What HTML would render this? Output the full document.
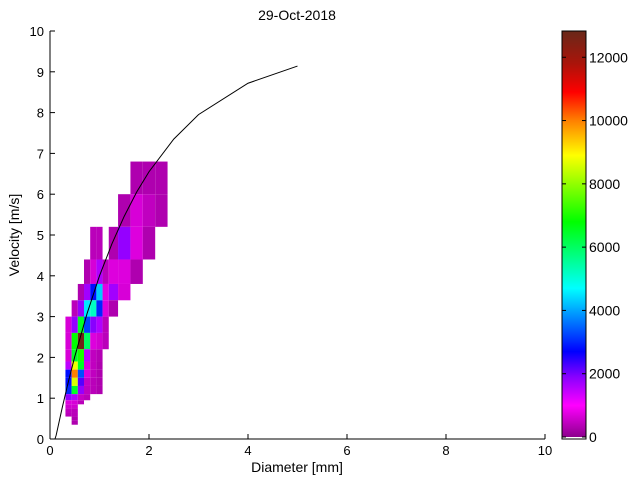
<!DOCTYPE html>
<html><head><meta charset="utf-8"><style>
body{margin:0;background:#fff;}
svg text{font-family:"Liberation Sans",Helvetica,sans-serif;fill:#000;}
</style></head><body>
<svg id="chart" width="640" height="480" xmlns="http://www.w3.org/2000/svg">
<rect width="640" height="480" fill="#fff"/>
<text x="297" y="20" font-size="14" text-anchor="middle">29-Oct-2018</text>
<g id="cells"></g>
<g id="axes"></g>
<g id="cbar"></g>
<text x="297" y="472" font-size="14" text-anchor="middle">Diameter [mm]</text>
<text x="19" y="235" font-size="14" text-anchor="middle" transform="rotate(-90 19 235)">Velocity [m/s]</text>
</svg>
<script>
const diamCenters=[0.062,0.187,0.312,0.437,0.562,0.687,0.812,0.937,1.062,1.187,1.375,1.625,1.875,2.125,2.375,2.75,3.25];
const velCenters=[0.05,0.15,0.25,0.35,0.45,0.55,0.65,0.75,0.85,0.95,1.1,1.3,1.5,1.7,1.9,2.2,2.6,3.0,3.4,3.8,4.4,5.2,6.0,6.8,7.6];
const cellD=[11,12,13, 10,11,12,13, 6,7,9,10,11,12, 5,6,7,8,9,10,11, 4,5,6,7,8,9,10, 3,4,5,6,7,8,9, 2,3,4,5,6,7,8, 2,3,4,5,6,7,8, 2,3,4,5,6,7, 2,3,4,5,6,7, 2,3,4,5,6,7, 2,3,4,5,6,7, 2,3,4,5,6,7, 2,3,4,5, 2,3,4, 2,3, 2,3, 2,3, 3, 3];
const cellV=[22,22,22, 21,21,21,21, 20,20,20,20,20,20, 19,19,19,19,19,19,19, 18,18,18,18,18,18,18, 17,17,17,17,17,17,17, 16,16,16,16,16,16,16, 15,15,15,15,15,15,15, 14,14,14,14,14,14, 13,13,13,13,13,13, 12,12,12,12,12,12, 11,11,11,11,11,11, 10,10,10,10,10,10, 9,9,9,9, 8,8,8, 7,7, 6,6, 5,5, 4, 3];
const cellCount=[300,300,300, 300,650,450,300, 400,400,300,1800,700,300, 300,650,1600,400,700,700,300, 300,1700,2800,4300,750,1700,650, 400,1800,4500,5200,3000,700,300, 650,1800,6500,3200,1900,1600,400, 650,6800,12700,6000,700,600,400, 650,6500,7000,1500,450,350, 1500,8800,6500,700,450,300, 2800,10000,3300,700,450,300, 2800,8600,2200,500,400,300, 3000,6500,1800,450,400,300, 1800,1600,500,400, 700,650,400, 600,600, 450,400, 400,400, 300, 300];
const fitD=[0.1,0.125,0.25,0.375,0.5,0.75,1,1.25,1.5,1.75,2,2.5,3,4,5];
const fitV=[0,0.095,0.785,1.425,2.02,3.08,4.0,4.78,5.46,6.05,6.55,7.35,7.95,8.72,9.14];
const xTicks=[0,2,4,6,8,10];
const yTicks=[0,1,2,3,4,5,6,7,8,9,10];
const cTicks=[0,2000,4000,6000,8000,10000,12000];
const cMax=12830;
const NS="http://www.w3.org/2000/svg";
const X0=50,X1=545,Y0=439,Y1=31;
const xs=d=>X0+(X1-X0)*d/10, ys=v=>Y0-(Y0-Y1)*v/10;
const stops=[[0,[140,0,140]],[1000,[255,0,255]],[1900,[136,0,255]],[2700,[0,0,255]],[4700,[0,255,255]],[6800,[0,255,0]],[8900,[255,255,0]],[10000,[255,128,0]],[10900,[255,0,0]],[11800,[170,20,10]],[12830,[105,40,25]]];
function col(v){for(let i=1;i<stops.length;i++){if(v<=stops[i][0]){const a=stops[i-1],b=stops[i],t=(v-a[0])/(b[0]-a[0]);return 'rgb('+a[1].map((c,k)=>Math.round(c+(b[1][k]-c)*t)).join(',')+')';}}return 'rgb(105,40,25)';}
function mk(tag,attrs,parent){const e=document.createElementNS(NS,tag);for(const k in attrs)e.setAttribute(k,attrs[k]);parent.appendChild(e);return e;}
const cg=document.getElementById('cells');
for(let i=0;i<cellD.length;i++){
 const d=cellD[i],v=cellV[i];
 const x=xs(diamCenters[d]),x2=xs(diamCenters[d+1]),y=ys(velCenters[v+1]),y2=ys(velCenters[v]);
 const r=mk('rect',{x:x,y:y,width:x2-x,height:y2-y,fill:col(cellCount[i])},cg);
 
 
}
const ax=document.getElementById('axes');
let pts=fitD.map((d,i)=>xs(d)+','+ys(fitV[i])).join(' ');
const fl=mk('polyline',{points:pts,fill:'none',stroke:'#000','stroke-width':1},ax);


mk('line',{x1:X0,y1:Y1,x2:X0,y2:Y0,stroke:'#000'},ax);
mk('line',{x1:X0,y1:Y0,x2:X1,y2:Y0,stroke:'#000'},ax);
xTicks.forEach(t=>{mk('line',{x1:xs(t),y1:Y0,x2:xs(t),y2:Y0-5,stroke:'#000'},ax);
 const tx=mk('text',{x:xs(t),y:Y0+16,'font-size':13,'text-anchor':'middle'},ax);tx.textContent=t;
 
 });
yTicks.forEach(t=>{mk('line',{x1:X0,y1:ys(t),x2:X0+5,y2:ys(t),stroke:'#000'},ax);
 const tx=mk('text',{x:X0-6,y:ys(t)+5,'font-size':13,'text-anchor':'end'},ax);tx.textContent=t;
 
 });
const cb=document.getElementById('cbar');
const CX=562,CW=24,CB=437,CT=31;
const cys=v=>CB-(CB-CT)*v/cMax;
for(let p=CT;p<CB;p+=1){mk('rect',{x:CX,y:p,width:CW,height:1.2,fill:col((CB-p-0.5)/(CB-CT)*cMax)},cb);}
mk('rect',{x:CX,y:CB,width:CW,height:2,fill:'#fff'},cb);
mk('rect',{x:CX,y:CT,width:CW,height:CB+2-CT,fill:'none',stroke:'#000'},cb);
cTicks.forEach(t=>{const y=cys(t);
 mk('line',{x1:CX,y1:y,x2:CX+4,y2:y,stroke:'#000'},cb);
 mk('line',{x1:CX+CW-4,y1:y,x2:CX+CW,y2:y,stroke:'#000'},cb);
 const tx=mk('text',{x:CX+CW+3,y:y+5,'font-size':14},cb);tx.textContent=t;
 
 });
</script>
</body></html>
